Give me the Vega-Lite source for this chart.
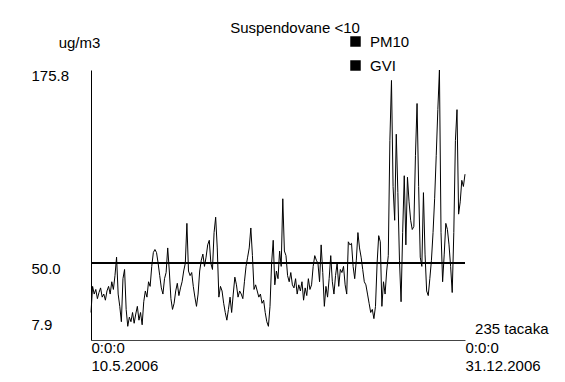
{
  "$schema": "https://vega.github.io/schema/vega-lite/v6.json",
  "autosize": {"type": "none"},
  "width": 374,
  "height": 270,
  "padding": {"left": 91, "top": 70, "right": 100, "bottom": 42},
  "background": "white",
  "config": {
    "font": "Liberation Sans",
    "view": {"stroke": null},
    "axis": {"grid": false, "ticks": false, "tickSize": 0, "labelFontSize": 15, "labelColor": "black", "titleFontSize": 15, "titleFontWeight": "normal", "titleColor": "black", "labelFont": "Liberation Sans", "titleFont": "Liberation Sans"}
  },
  "title": {
    "text": "Suspendovane <10",
    "fontSize": 15,
    "fontWeight": "normal",
    "color": "black",
    "font": "Liberation Sans",
    "anchor": "middle",
    "baseline": "bottom",
    "dx": 17,
    "offset": -17
  },
  "data": {
    "values": [
      {"t":0,"v":18},{"t":1,"v":35},{"t":2,"v":30},{"t":3,"v":33},{"t":4,"v":27},{"t":5,"v":31},{"t":6,"v":34},{"t":7,"v":28},{"t":8,"v":30},{"t":9,"v":26},
      {"t":10,"v":32},{"t":11,"v":35},{"t":12,"v":30},{"t":13,"v":38},{"t":14,"v":33},{"t":15,"v":42},{"t":16,"v":54},{"t":17,"v":30},{"t":18,"v":22},{"t":19,"v":12},
      {"t":20,"v":40},{"t":21,"v":46},{"t":22,"v":20},{"t":23,"v":9},{"t":24,"v":15},{"t":25,"v":12},{"t":26,"v":18},{"t":27,"v":11},{"t":28,"v":17},{"t":29,"v":22},
      {"t":30,"v":13},{"t":31,"v":18},{"t":32,"v":10},{"t":33,"v":25},{"t":34,"v":32},{"t":35,"v":28},{"t":36,"v":38},{"t":37,"v":35},{"t":38,"v":48},{"t":39,"v":57},
      {"t":40,"v":59},{"t":41,"v":57},{"t":42,"v":50},{"t":43,"v":42},{"t":44,"v":34},{"t":45,"v":30},{"t":46,"v":40},{"t":47,"v":44},{"t":48,"v":60},{"t":49,"v":45},
      {"t":50,"v":27},{"t":51,"v":20},{"t":52,"v":24},{"t":53,"v":32},{"t":54,"v":37},{"t":55,"v":29},{"t":56,"v":34},{"t":57,"v":38},{"t":58,"v":45},{"t":59,"v":50},
      {"t":60,"v":76},{"t":61,"v":45},{"t":62,"v":42},{"t":63,"v":44},{"t":64,"v":35},{"t":65,"v":28},{"t":66,"v":22},{"t":67,"v":30},{"t":68,"v":45},{"t":69,"v":52},
      {"t":70,"v":56},{"t":71,"v":48},{"t":72,"v":54},{"t":73,"v":62},{"t":74,"v":65},{"t":75,"v":50},{"t":76,"v":46},{"t":77,"v":70},{"t":78,"v":80},{"t":79,"v":60},
      {"t":80,"v":28},{"t":81,"v":35},{"t":82,"v":32},{"t":83,"v":24},{"t":84,"v":18},{"t":85,"v":13},{"t":86,"v":20},{"t":87,"v":28},{"t":88,"v":18},{"t":89,"v":30},
      {"t":90,"v":41},{"t":91,"v":36},{"t":92,"v":28},{"t":93,"v":32},{"t":94,"v":30},{"t":95,"v":27},{"t":96,"v":38},{"t":97,"v":48},{"t":98,"v":54},{"t":99,"v":60},
      {"t":100,"v":73},{"t":101,"v":55},{"t":102,"v":33},{"t":103,"v":36},{"t":104,"v":32},{"t":105,"v":28},{"t":106,"v":30},{"t":107,"v":24},{"t":108,"v":26},{"t":109,"v":18},
      {"t":110,"v":12},{"t":111,"v":9},{"t":112,"v":22},{"t":113,"v":50},{"t":114,"v":65},{"t":115,"v":36},{"t":116,"v":45},{"t":117,"v":40},{"t":118,"v":58},{"t":119,"v":48},
      {"t":120,"v":92},{"t":121,"v":58},{"t":122,"v":55},{"t":123,"v":42},{"t":124,"v":38},{"t":125,"v":44},{"t":126,"v":36},{"t":127,"v":34},{"t":128,"v":40},{"t":129,"v":30},
      {"t":130,"v":36},{"t":131,"v":32},{"t":132,"v":38},{"t":133,"v":26},{"t":134,"v":34},{"t":135,"v":29},{"t":136,"v":40},{"t":137,"v":33},{"t":138,"v":36},{"t":139,"v":48},
      {"t":140,"v":55},{"t":141,"v":52},{"t":142,"v":50},{"t":143,"v":38},{"t":144,"v":62},{"t":145,"v":44},{"t":146,"v":22},{"t":147,"v":35},{"t":148,"v":28},{"t":149,"v":40},
      {"t":150,"v":55},{"t":151,"v":38},{"t":152,"v":30},{"t":153,"v":42},{"t":154,"v":50},{"t":155,"v":35},{"t":156,"v":46},{"t":157,"v":44},{"t":158,"v":48},{"t":159,"v":36},
      {"t":160,"v":30},{"t":161,"v":64},{"t":162,"v":62},{"t":163,"v":63},{"t":164,"v":48},{"t":165,"v":40},{"t":166,"v":52},{"t":167,"v":70},{"t":168,"v":60},{"t":169,"v":54},
      {"t":170,"v":46},{"t":171,"v":38},{"t":172,"v":36},{"t":173,"v":30},{"t":174,"v":24},{"t":175,"v":18},{"t":176,"v":20},{"t":177,"v":14},{"t":178,"v":22},{"t":179,"v":50},
      {"t":180,"v":68},{"t":181,"v":64},{"t":182,"v":22},{"t":183,"v":38},{"t":184,"v":30},{"t":185,"v":45},{"t":186,"v":55},{"t":187,"v":130},{"t":188,"v":169},{"t":189,"v":100},
      {"t":190,"v":78},{"t":191,"v":134},{"t":192,"v":96},{"t":193,"v":52},{"t":194,"v":25},{"t":195,"v":70},{"t":196,"v":107},{"t":197,"v":62},{"t":198,"v":106},{"t":199,"v":90},
      {"t":200,"v":78},{"t":201,"v":72},{"t":202,"v":74},{"t":203,"v":120},{"t":204,"v":154},{"t":205,"v":100},{"t":206,"v":54},{"t":207,"v":48},{"t":208,"v":96},{"t":209,"v":56},
      {"t":210,"v":32},{"t":211,"v":29},{"t":212,"v":40},{"t":213,"v":52},{"t":214,"v":70},{"t":215,"v":92},{"t":216,"v":120},{"t":217,"v":150},{"t":218,"v":175.8},{"t":219,"v":70},
      {"t":220,"v":38},{"t":221,"v":56},{"t":222,"v":76},{"t":223,"v":72},{"t":224,"v":62},{"t":225,"v":48},{"t":226,"v":31},{"t":227,"v":70},{"t":228,"v":130},{"t":229,"v":150},
      {"t":230,"v":82},{"t":231,"v":90},{"t":232,"v":104},{"t":233,"v":100},{"t":234,"v":108}
    ]
  },
  "layer": [
    {
      "mark": {"type": "line", "strokeWidth": 1, "interpolate": "linear"},
      "encoding": {
        "x": {
          "field": "t",
          "type": "quantitative",
          "scale": {"domain": [0, 234], "nice": false, "zero": false},
          "axis": {
            "values": [0, 234],
            "labelExpr": "datum.value == 0 ? ['0:0:0', '10.5.2006'] : ['0:0:0', '31.12.2006']",
            "labelAlign": "left",
            "labelBaseline": "top",
            "labelFlush": false,
            "labelOverlap": false,
            "labelPadding": 0,
            "labelLineHeight": 18,
            "domainColor": "#444444",
            "domainWidth": 1,
            "title": "235 tacaka",
            "titleAlign": "right",
            "titleBaseline": "middle",
            "titleX": 457,
            "titleY": -12
          }
        },
        "y": {
          "field": "v",
          "type": "quantitative",
          "scale": {"domain": [0.1, 175.8], "nice": false, "zero": false},
          "axis": {
            "values": [7.9, 50, 175.8],
            "labelExpr": "format(datum.value, '.1f')",
            "labelAlign": "left",
            "labelBaseline": "middle",
            "labelPadding": 60,
            "labelOffset": {"condition": {"test": "datum.value < 10", "value": -4}, "value": 5},
            "labelFlush": false,
            "labelOverlap": false,
            "domainColor": "black",
            "domainWidth": 1,
            "title": "ug/m3",
            "titleAngle": 0,
            "titleAlign": "center",
            "titleBaseline": "middle",
            "titleX": -12,
            "titleY": -28
          }
        },
        "color": {
          "datum": "PM10",
          "type": "nominal",
          "scale": {"domain": ["PM10", "GVI"], "range": ["black", "black"]},
          "legend": {
            "orient": "none",
            "legendX": 257,
            "legendY": -36,
            "title": null,
            "symbolType": "square",
            "symbolSize": 110,
            "labelFontSize": 15,
            "labelFont": "Liberation Sans",
            "labelColor": "black",
            "labelOffset": 7,
            "rowPadding": 8,
            "encode": {"symbols": {"update": {"fill": {"value": "black"}, "stroke": {"value": "black"}, "shape": {"value": "square"}, "strokeWidth": {"value": 0}}}}
          }
        }
      }
    },
    {
      "mark": {"type": "rule", "strokeWidth": 1},
      "encoding": {
        "y": {"datum": 50, "type": "quantitative"},
        "color": {"datum": "GVI", "type": "nominal"}
      }
    }
  ]
}
